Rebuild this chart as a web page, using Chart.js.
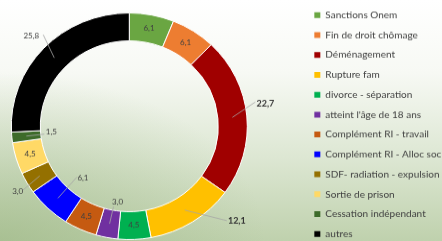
<!DOCTYPE html>
<html><head><meta charset="utf-8">
<script src="https://cdn.jsdelivr.net/npm/chart.js@4.4.1/dist/chart.umd.min.js"></script>
<style>
html,body{margin:0;padding:0;width:442px;height:241px;overflow:hidden;}
body{position:relative;
background:
 radial-gradient(ellipse 60% 70% at 0% 100%, rgba(150,178,125,0.55) 0%, rgba(150,178,125,0) 100%),
 linear-gradient(to bottom, #ffffff 0%, #f7f9f4 30%, #dde7d3 65%, #bfd1ad 100%);}
#wrap{position:absolute;left:-45px;top:0;width:490px;height:263px;transform:scaleY(0.96);transform-origin:0 0;}
canvas{display:block;}
</style></head><body>
<div id="wrap"><canvas id="c" width="490" height="263" style="width:490px;height:263px"></canvas></div>
<script>
const categories = ["Sanctions Onem","Fin de droit chômage","Déménagement","Rupture fam","divorce - séparation","atteint l'âge de 18 ans","Complément RI - travail","Complément RI - Alloc soc","SDF- radiation - expulsion","Sortie de prison","Cessation indépendant","autres"];
const values = [6.1, 6.1, 22.7, 12.1, 4.5, 3.0, 4.5, 6.1, 3.0, 4.5, 1.5, 25.8];
const colors = ["#6aa642","#ed7d31","#a00000","#ffc000","#00b050","#7030a0","#c55a11","#0000ff","#947000","#ffd966","#3d6b2a","#000000"];

// label placement (offsets in canvas px from each slice's centre point)
const labelPlacement = [
  "in", "in",
  {leader:[23,-16], text:[33,-14], bold:true},
  {leader:[42,11], text:[52,11], bold:true},
  "in",
  {leader:[4,-18], text:[8,-23]},
  "in",
  {leader:[19,-22], text:[25,-21]},
  {leader:[-17,15], text:[-22,16]},
  "in",
  {leader:[18,-2], text:[25,-4]},
  {leader:[-11,-24], text:[-23,-23]}
];

const labelPlugin = {
  id:'sliceLabels',
  afterDatasetsDraw(chart){
    const ctx = chart.ctx;
    const meta = chart.getDatasetMeta(0);
    meta.data.forEach((arc,i)=>{
      const p = arc.tooltipPosition();
      const txt = values[i].toFixed(1).replace('.',',');
      const pl = labelPlacement[i];
      ctx.save();
      ctx.textAlign='center'; ctx.textBaseline='middle';
      if (pl === "in") {
        ctx.fillStyle='#404040';
        ctx.font='8px Lato';
        ctx.fillText(txt, p.x, p.y);
      } else {
        ctx.strokeStyle='#a6a6a6'; ctx.lineWidth=0.8;
        ctx.beginPath(); ctx.moveTo(p.x,p.y); ctx.lineTo(p.x+pl.leader[0], p.y+pl.leader[1]); ctx.stroke();
        ctx.fillStyle= pl.bold ? '#333333' : '#404040';
        ctx.font = pl.bold ? 'bold 9px Lato' : '8px Lato';
        ctx.fillText(txt, p.x+pl.text[0], p.y+pl.text[1]);
      }
      ctx.restore();
    });
  }
};

new Chart(document.getElementById('c'), {
  type:'doughnut',
  data:{labels:categories, datasets:[{data:values, backgroundColor:colors, borderColor:'#ffffff', borderWidth:1}]},
  options:{
    responsive:false, animation:false,
    radius:118, cutout:'75.4%',
    layout:{padding:0},
    plugins:{
      tooltip:{enabled:false},
      legend:{
        position:'right', align:'start', maxWidth:141.4,
        labels:{
          boxWidth:6, boxHeight:6, padding:10.73, color:'#404040',
          font:{family:'Lato', size:10},
          generateLabels(chart){
            const items = Chart.overrides.doughnut.plugins.legend.labels.generateLabels(chart);
            items.forEach(it=>{it.lineWidth=0; it.strokeStyle='rgba(0,0,0,0)';});
            return items;
          }
        }
      }
    }
  },
  plugins:[labelPlugin]
});
</script>
</body></html>
